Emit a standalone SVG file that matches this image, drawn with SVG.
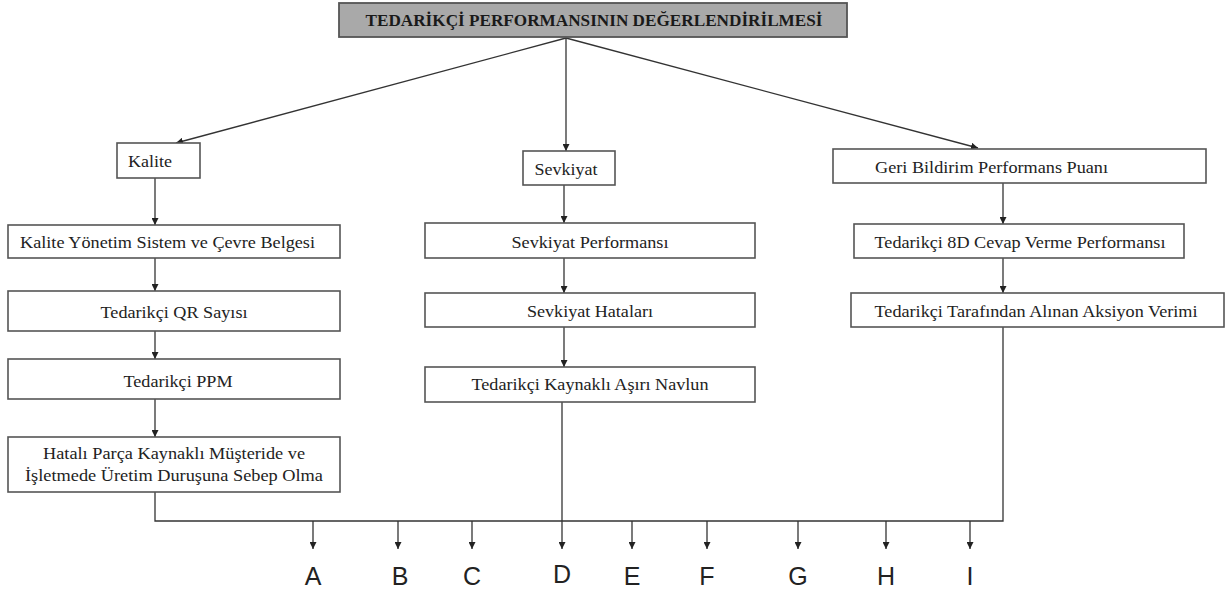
<svg xmlns="http://www.w3.org/2000/svg" width="1228" height="589" viewBox="0 0 1228 589">
<style>
.box{fill:#ffffff;stroke:#555555;stroke-width:1.6}
.title{fill:#a9a9a9;stroke:#555555;stroke-width:1.8}
.t{font-family:"Liberation Serif","Times New Roman",serif;font-size:17px;fill:#222222}
.tc{font-family:"Liberation Serif","Times New Roman",serif;font-size:17px;fill:#222222;text-anchor:middle}
.tt{font-family:"Liberation Serif","Times New Roman",serif;font-size:17px;font-weight:bold;fill:#1a1a1a;text-anchor:middle}
.lt{font-family:"Liberation Sans",Arial,sans-serif;font-size:25px;fill:#222222;text-anchor:middle}
.c{stroke:#333333;stroke-width:1.3;fill:none}
</style>
<defs>
<marker id="ah" viewBox="0 0 10 10" refX="10" refY="5" markerWidth="7" markerHeight="7" orient="auto" markerUnits="userSpaceOnUse">
<path d="M0,0 L10,5 L0,10 z" fill="#222222"/>
</marker>
</defs>
<g id="connectors">
<line class="c" x1="566" y1="38" x2="176" y2="143" marker-end="url(#ah)"/>
<line class="c" x1="566" y1="38" x2="566" y2="151" marker-end="url(#ah)"/>
<line class="c" x1="566" y1="38" x2="978" y2="148" marker-end="url(#ah)"/>
<line class="c" x1="155" y1="178" x2="155" y2="225" marker-end="url(#ah)"/>
<line class="c" x1="155" y1="258" x2="155" y2="291" marker-end="url(#ah)"/>
<line class="c" x1="155" y1="331" x2="155" y2="359" marker-end="url(#ah)"/>
<line class="c" x1="155" y1="399" x2="155" y2="437" marker-end="url(#ah)"/>
<line class="c" x1="564" y1="185" x2="564" y2="223" marker-end="url(#ah)"/>
<line class="c" x1="564" y1="258" x2="564" y2="293" marker-end="url(#ah)"/>
<line class="c" x1="564" y1="327" x2="564" y2="367" marker-end="url(#ah)"/>
<line class="c" x1="1003" y1="183" x2="1003" y2="224" marker-end="url(#ah)"/>
<line class="c" x1="1003" y1="258" x2="1003" y2="293" marker-end="url(#ah)"/>
<polyline class="c" points="155,492 155,521 1003,521 1003,327"/>
<line class="c" x1="562" y1="402" x2="562" y2="549" marker-end="url(#ah)"/>
<line class="c" x1="313" y1="521" x2="313" y2="549" marker-end="url(#ah)"/>
<line class="c" x1="398" y1="521" x2="398" y2="549" marker-end="url(#ah)"/>
<line class="c" x1="472" y1="521" x2="472" y2="549" marker-end="url(#ah)"/>
<line class="c" x1="632" y1="521" x2="632" y2="549" marker-end="url(#ah)"/>
<line class="c" x1="707" y1="521" x2="707" y2="549" marker-end="url(#ah)"/>
<line class="c" x1="798" y1="521" x2="798" y2="549" marker-end="url(#ah)"/>
<line class="c" x1="886" y1="521" x2="886" y2="549" marker-end="url(#ah)"/>
<line class="c" x1="970" y1="521" x2="970" y2="549" marker-end="url(#ah)"/>
</g>
<g id="title">
<rect class="title" x="339" y="3" width="508" height="34"/>
<text class="tt" x="594" y="26" textLength="457" lengthAdjust="spacingAndGlyphs">TEDARİKÇİ  PERFORMANSININ DEĞERLENDİRİLMESİ</text>
</g>
<g id="kalite">
<rect class="box" x="117" y="143" width="83" height="35"/>
<text class="t" x="128" y="167" textLength="44" lengthAdjust="spacingAndGlyphs">Kalite</text>
</g>
<g id="sevkiyat">
<rect class="box" x="523" y="151" width="92" height="34"/>
<text class="tc" x="566" y="175" textLength="63" lengthAdjust="spacingAndGlyphs">Sevkiyat</text>
</g>
<g id="geri">
<rect class="box" x="833" y="149" width="373" height="34"/>
<text class="t" x="875" y="173" textLength="233" lengthAdjust="spacingAndGlyphs">Geri Bildirim Performans Puanı</text>
</g>
<g id="kys">
<rect class="box" x="8" y="225" width="332" height="33"/>
<text class="t" x="20" y="248" textLength="295" lengthAdjust="spacingAndGlyphs">Kalite Yönetim Sistem ve Çevre Belgesi</text>
</g>
<g id="qr">
<rect class="box" x="8" y="291" width="332" height="40"/>
<text class="tc" x="174" y="318" textLength="147" lengthAdjust="spacingAndGlyphs">Tedarikçi QR Sayısı</text>
</g>
<g id="ppm">
<rect class="box" x="8" y="359" width="332" height="40"/>
<text class="tc" x="178" y="387" textLength="109" lengthAdjust="spacingAndGlyphs">Tedarikçi PPM</text>
</g>
<g id="hatali">
<rect class="box" x="8" y="437" width="332" height="55"/>
<text class="tc" x="174" y="459" textLength="262" lengthAdjust="spacingAndGlyphs">Hatalı Parça Kaynaklı Müşteride ve</text>
<text class="tc" x="174" y="481" textLength="298" lengthAdjust="spacingAndGlyphs">İşletmede Üretim Duruşuna Sebep Olma</text>
</g>
<g id="sevperf">
<rect class="box" x="425" y="223" width="330" height="35"/>
<text class="tc" x="590" y="248" textLength="157" lengthAdjust="spacingAndGlyphs">Sevkiyat Performansı</text>
</g>
<g id="sevhata">
<rect class="box" x="425" y="293" width="330" height="34"/>
<text class="tc" x="590" y="317" textLength="126" lengthAdjust="spacingAndGlyphs">Sevkiyat Hataları</text>
</g>
<g id="navlun">
<rect class="box" x="425" y="367" width="330" height="35"/>
<text class="tc" x="590" y="390" textLength="237" lengthAdjust="spacingAndGlyphs">Tedarikçi Kaynaklı Aşırı Navlun</text>
</g>
<g id="cevap">
<rect class="box" x="854" y="224" width="330" height="34"/>
<text class="tc" x="1020" y="248" textLength="291" lengthAdjust="spacingAndGlyphs">Tedarikçi 8D Cevap Verme Performansı</text>
</g>
<g id="aksiyon">
<rect class="box" x="851" y="293" width="373" height="34"/>
<text class="tc" x="1036" y="317" textLength="323" lengthAdjust="spacingAndGlyphs">Tedarikçi Tarafından Alınan Aksiyon Verimi</text>
</g>
<g id="letters">
<text class="lt" x="313" y="585">A</text>
<text class="lt" x="400" y="585">B</text>
<text class="lt" x="472" y="585">C</text>
<text class="lt" x="562" y="583">D</text>
<text class="lt" x="632" y="585">E</text>
<text class="lt" x="707" y="585">F</text>
<text class="lt" x="798" y="585">G</text>
<text class="lt" x="886" y="585">H</text>
<text class="lt" x="970" y="585">I</text>
</g>
</svg>
